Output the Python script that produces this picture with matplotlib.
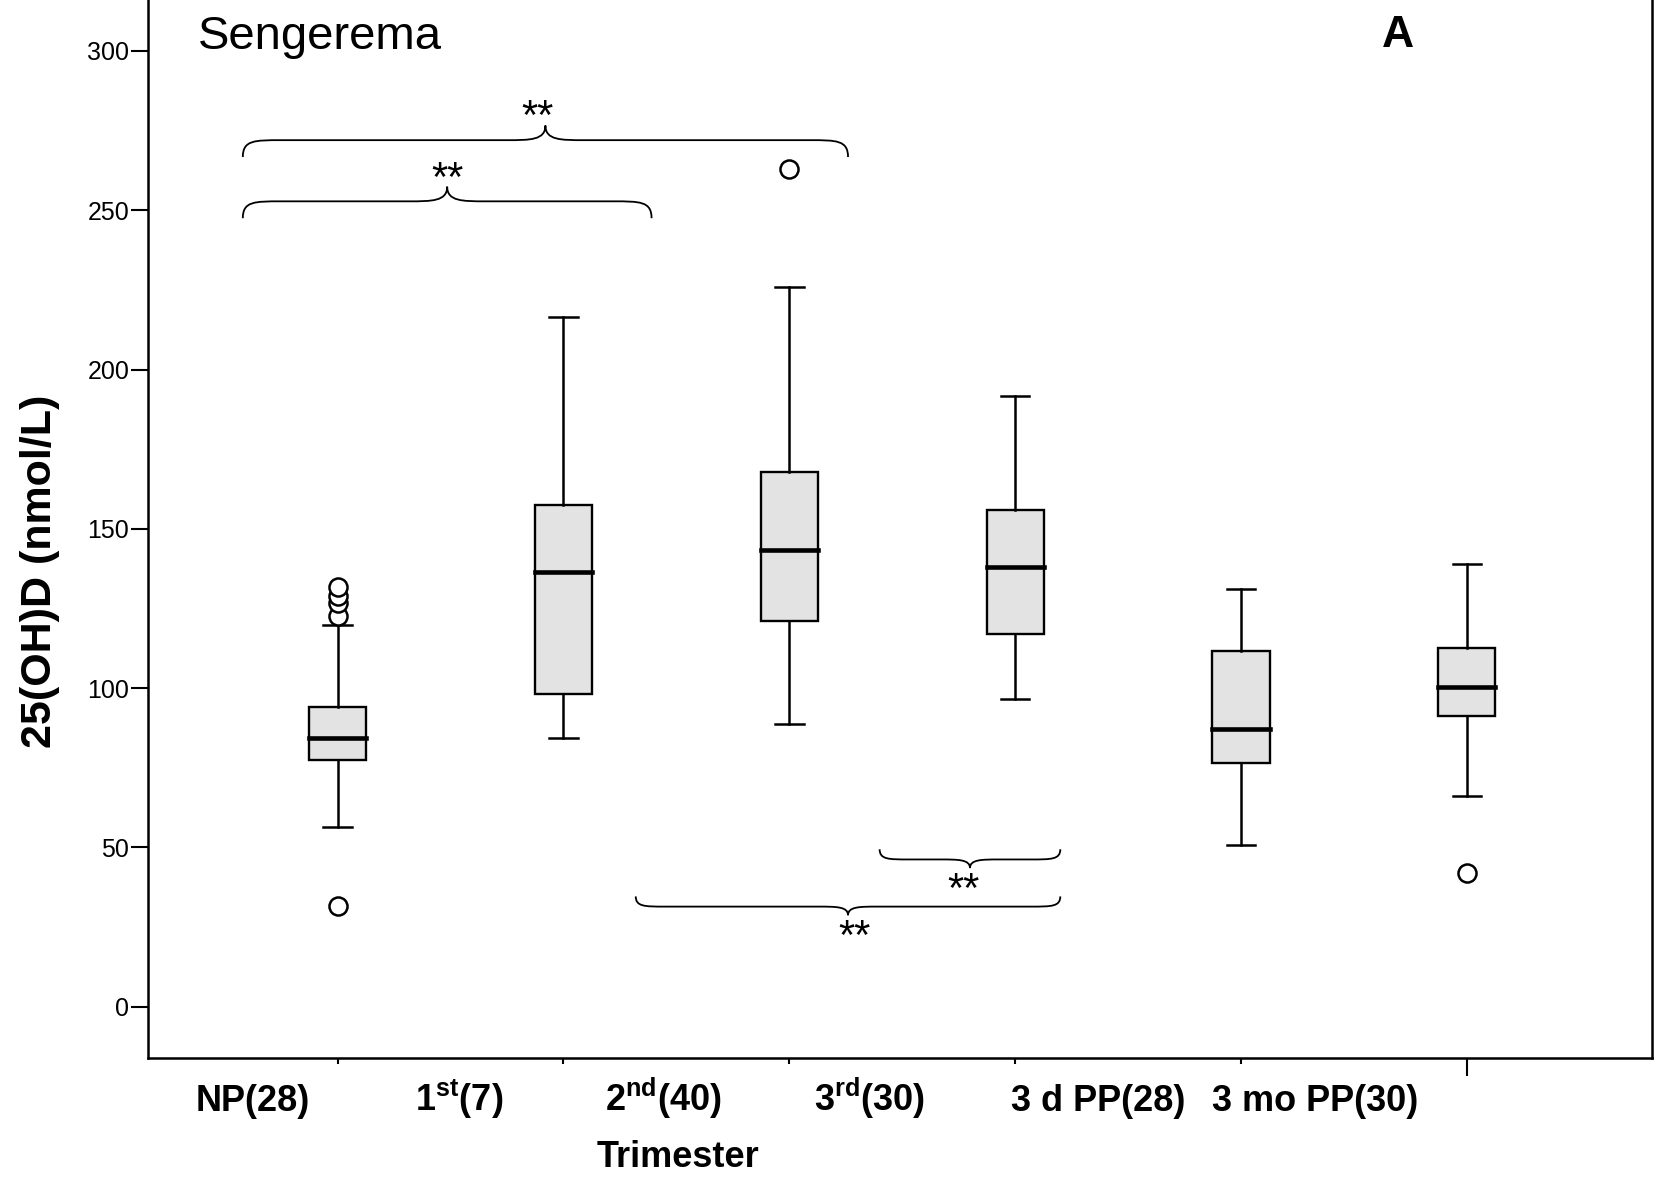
import numpy as np
import matplotlib
matplotlib.use("Agg")
import matplotlib.pyplot as plt
from matplotlib.path import Path
from matplotlib.patches import PathPatch

plt.rcParams['font.family'] = ['Liberation Sans', 'DejaVu Sans']
plt.rcParams['mathtext.fontset'] = 'custom'
plt.rcParams['mathtext.rm'] = 'Liberation Sans'
plt.rcParams['mathtext.bf'] = 'Liberation Sans:bold'

# groups (order on the x axis)
groups = ['NP(28)', '1$^{\\mathbf{st}}$(7)', '2$^{\\mathbf{nd}}$(40)', '3$^{\\mathbf{rd}}$(30)',
          '3 d PP(28)', '3 mo PP(30)']

# box statistics, 25(OH)D nmol/L
whis_lo = [56.4, 84.3, 88.6, 96.7, 50.7, 66.2]
q1      = [77.4, 98.0, 121.1, 117.0, 76.4, 91.1]
median  = [84.2, 136.5, 143.5, 138.1, 87.3, 100.3]
q3      = [94.1, 157.5, 167.9, 155.9, 111.7, 112.5]
whis_hi = [119.7, 216.4, 225.8, 191.6, 131.2, 139.0]
outliers = [[31.5, 122.7, 126.8, 128.8, 131.8], [], [262.9], [], [], [41.8]]

# significance braces: (x start, x end, level, direction) in category units
braces = [(0.58, 3.26, 272, 1), (0.58, 2.39, 252.8, 1),
          (3.40, 4.20, 46.2, -1), (2.32, 4.20, 31.4, -1)]
brace_marks = [(1.887, 281.6), (1.486, 262.2), (3.77, 39.1), (3.29, 24.1)]

# where the category labels sit (they are shifted off the ticks in the original)
label_x = [0.625, 1.538, 2.443, 3.354, 4.366, 5.330]


def draw_brace(ax, x0, x1, y, d, h, t, w):
    xc = (x0 + x1) / 2
    verts = [(x0, y - d * h),
             (x0, y), (x0 + 0.3 * w, y), (x0 + w, y),
             (xc - w, y),
             (xc - 0.4 * w, y), (xc, y), (xc, y + d * t),
             (xc, y), (xc + 0.4 * w, y), (xc + w, y),
             (x1 - w, y),
             (x1 - 0.3 * w, y), (x1, y), (x1, y - d * h)]
    codes = [Path.MOVETO, Path.CURVE4, Path.CURVE4, Path.CURVE4, Path.LINETO,
             Path.CURVE4, Path.CURVE4, Path.CURVE4,
             Path.CURVE4, Path.CURVE4, Path.CURVE4, Path.LINETO,
             Path.CURVE4, Path.CURVE4, Path.CURVE4]
    ax.add_patch(PathPatch(Path(verts, codes), fill=False, lw=1.3, color='black'))


fig = plt.figure(figsize=(16.7, 11.83), dpi=100)
ax = fig.add_axes([0.0886, 0.106, 0.9006, 0.894])

stats = []
for i in range(len(groups)):
    stats.append(dict(whislo=whis_lo[i], q1=q1[i], med=median[i], q3=q3[i],
                      whishi=whis_hi[i], fliers=outliers[i]))

positions = np.arange(1, len(groups) + 1)
ax.bxp(stats, positions=positions, widths=0.253, patch_artist=True,
       boxprops=dict(facecolor='#e3e3e3', edgecolor='black', linewidth=1.7),
       medianprops=dict(color='black', linewidth=3.3, solid_capstyle='projecting'),
       whiskerprops=dict(color='black', linewidth=1.8),
       capprops=dict(color='black', linewidth=1.8),
       flierprops=dict(marker='o', markersize=13, markerfacecolor='white',
                       markeredgecolor='black', markeredgewidth=1.8))

for (x0, x1, y, d) in braces:
    if d > 0:
        draw_brace(ax, x0, x1, y, d, 5.3, 4.6, 0.17)
    else:
        draw_brace(ax, x0, x1, y, d, 3.2, 2.7, 0.13)

star_fs = 30
for (x, y) in brace_marks:
    # '*' glyph sits high in the line, so drop the baseline below the wanted centre
    ax.annotate('**', (x, y), xytext=(0, -14), textcoords='offset points',
                fontsize=star_fs, ha='center', va='baseline')

ax.set_xlim(0.16, 6.82)
ax.set_ylim(-16, 316)
ax.set_yticks(np.arange(0, 301, 50))
ax.tick_params(axis='y', length=12.5, width=1.5, labelsize=18, pad=1)
ax.set_xticks(positions)
ax.set_xticklabels([''] * len(groups))
ax.tick_params(axis='x', length=4.5, width=1.5)
ax.xaxis.get_major_ticks()[-1].tick1line.set_markersize(13)
for s in ['left', 'right', 'bottom']:
    ax.spines[s].set_linewidth(1.8)
ax.spines['top'].set_visible(False)

for x, lab in zip(label_x, groups):
    ax.text(x, -0.0505, lab, transform=ax.get_xaxis_transform(), ha='center',
            va='baseline', fontsize=26, fontweight='bold')

fig.text(0.406, 0.0135, 'Trimester', ha='center', va='baseline', fontsize=26, fontweight='bold')
fig.text(0.024, 0.517, '25(OH)D (nmol/L)', rotation=90, ha='center', va='center',
         fontsize=31, fontweight='bold')
fig.text(0.1186, 0.959, 'Sengerema', ha='left', va='baseline', fontsize=34)
fig.text(0.837, 0.960, 'A', ha='center', va='baseline', fontsize=32, fontweight='bold')

fig.savefig('out.png', dpi=100)
